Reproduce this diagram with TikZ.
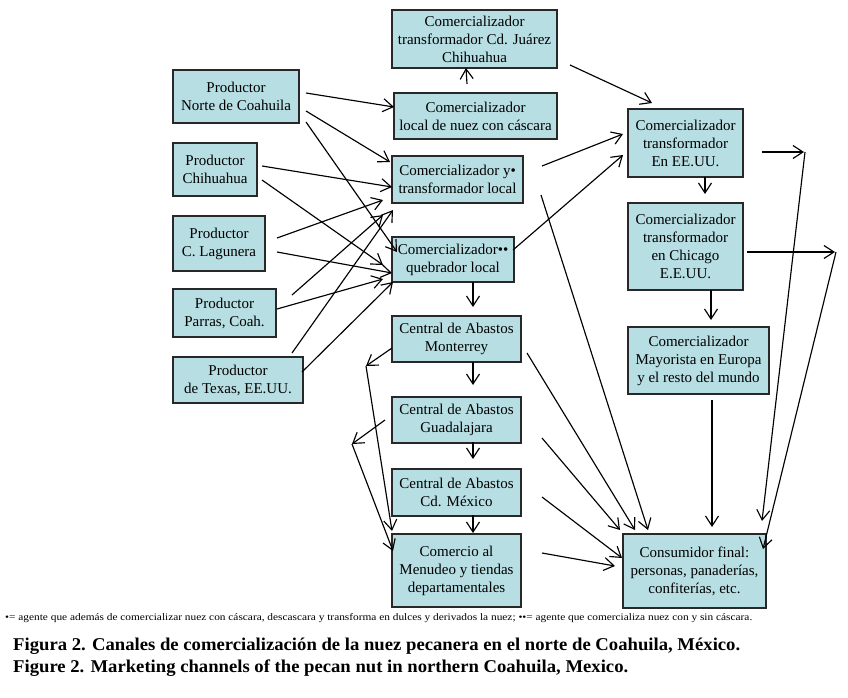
\documentclass[tikz,border=0pt]{standalone}
\usepackage{fontspec}
\setmainfont{Liberation Serif}
\usepackage{graphicx}
\usetikzlibrary{arrows.meta,calc}
\definecolor{boxfill}{RGB}{183,222,227}
\definecolor{boxline}{RGB}{40,40,40}
\begin{document}
\begin{tikzpicture}[x=1pt,y=-1pt,
 box/.style={draw=boxline,fill=boxfill,line width=1.6pt,align=center,inner sep=0pt,font=\fontsize{15}{18}\selectfont},
 arr/.style={line width=1.15pt,-{Straight Barb[length=10pt,width=13pt]}},
 ln/.style={line width=1.15pt}]
\fill[white] (0,0) rectangle (848,697);
\useasboundingbox (0,0) rectangle (848,697);

% centre column
\node[box,minimum width=165pt,minimum height=58pt] (juarez) at (474.5,39) {Comercializador\\transformador Cd. Juárez\\Chihuahua};
\node[box,minimum width=163pt,minimum height=46pt] (nuez) at (475.5,116) {Comercializador\\local de nuez con cáscara};
\node[box,minimum width=131pt,minimum height=47pt] (tlocal) at (457.5,179.5) {Comercializador y•\\transformador local};
\node[box,minimum width=122pt,minimum height=45pt] (queb) at (453,259.5) {Comercializador••\\quebrador local};
\node[box,minimum width=129pt,minimum height=46pt] (mty) at (456.5,339) {Central de Abastos\\Monterrey};
\node[box,minimum width=129pt,minimum height=46pt] (gdl) at (456.5,420) {Central de Abastos\\Guadalajara};
\node[box,minimum width=129pt,minimum height=47pt] (cdmx) at (456.5,492.5) {Central de Abastos\\Cd. México};
\node[box,minimum width=129pt,minimum height=73pt] (menudeo) at (456.5,570.5) {Comercio al\\Menudeo y tiendas\\departamentales};
% producers
\node[box,minimum width=126pt,minimum height=53pt] (norte) at (236,96.5) {Productor\\Norte de Coahuila};
\node[box,minimum width=84pt,minimum height=53pt] (chih) at (215,169.5) {Productor\\Chihuahua};
\node[box,minimum width=92pt,minimum height=55pt] (lag) at (219,243.5) {Productor\\C. Lagunera};
\node[box,minimum width=103pt,minimum height=48pt] (parras) at (224.5,313) {Productor\\Parras, Coah.};
\node[box,minimum width=130pt,minimum height=46pt] (texas) at (238,380) {Productor\\de Texas, EE.UU.};
% right column
\node[box,minimum width=115pt,minimum height=68pt] (eeuu) at (685.5,143) {Comercializador\\transformador\\En EE.UU.};
\node[box,minimum width=115pt,minimum height=87pt] (chicago) at (685.5,246.5) {Comercializador\\transformador\\en Chicago\\E.E.UU.};
\node[box,minimum width=141pt,minimum height=67pt] (europa) at (698.5,360.5) {Comercializador\\Mayorista en Europa\\y el resto del mundo};
\node[box,minimum width=143pt,minimum height=74pt] (cons) at (694.5,571) {Consumidor final:\\personas, panaderías,\\confiterías, etc.};

% bend points
\coordinate (c1) at (366,366);
\coordinate (c2) at (352,444);
\coordinate (c3) at (805,152);
\coordinate (c4) at (836,252);

% producers -> centre
\draw[arr] ([shift={(70,-3.5)}]norte.center) -- ([shift={(-81.5,-9)}]nuez.center);
\draw[arr] ([shift={(70,14.5)}]norte.center) -- ([shift={(-67.5,-17.5)}]tlocal.center);
\draw[arr] ([shift={(70,25.5)}]norte.center) -- ([shift={(-56,-7.5)}]queb.center);
\draw[arr] ([shift={(47,-3.5)}]chih.center) -- ([shift={(-65.5,7.5)}]tlocal.center);
\draw[arr] ([shift={(47,10.5)}]chih.center) -- ([shift={(-70,5.5)}]queb.center);
\draw[arr] ([shift={(58,-5.5)}]lag.center) -- ([shift={(-74.5,20.5)}]tlocal.center);
\draw[arr] ([shift={(58,8.5)}]lag.center) -- ([shift={(-61,13.5)}]queb.center);
\draw[arr] ([shift={(67.5,-18)}]parras.center) -- ([shift={(-74.5,35.5)}]tlocal.center);
\draw[arr] ([shift={(52.5,-4)}]parras.center) -- ([shift={(-70,19.5)}]queb.center);
\draw[arr] ([shift={(54,-27)}]texas.center) -- ([shift={(-64.5,30.5)}]tlocal.center);
\draw[arr] ([shift={(64,-8)}]texas.center) -- ([shift={(-60,22.5)}]queb.center);

% centre -> right
\draw[arr] ([shift={(84.5,-13.5)}]tlocal.center) -- ([shift={(-62.5,-9)}]eeuu.center);
\draw[arr] ([shift={(60,-9.5)}]queb.center) -- ([shift={(-62.5,12)}]eeuu.center);
\draw[arr] ([shift={(95.5,26)}]juarez.center) -- ([shift={(-33.5,-40)}]eeuu.center);
\draw[arr] ([shift={(-8.5,-32)}]nuez.center) -- ([shift={(-8.5,29)}]juarez.center);
\draw[arr] ([shift={(83.5,15.5)}]tlocal.center) -- ([shift={(-46.5,-41)}]cons.center);

% centre column chain
\draw[arr] ([shift={(20,22.5)}]queb.center) -- ([shift={(16.5,-32)}]mty.center);
\draw[arr] ([shift={(16.5,23)}]mty.center) -- ([shift={(16.5,-35)}]gdl.center);
\draw[arr] ([shift={(16.5,22)}]gdl.center) -- ([shift={(16.5,-33.5)}]cdmx.center);
\draw[arr] ([shift={(16.5,22.5)}]cdmx.center) -- ([shift={(16.5,-37.5)}]menudeo.center);

% left bypasses
\draw[arr] ([shift={(-64.5,9)}]mty.center) -- (c1);
\draw[arr] (c1) -- ([shift={(-64.5,-39.5)}]menudeo.center);
\draw[arr] ([shift={(-71.5,0)}]gdl.center) -- (c2);
\draw[arr] (c2) -- ([shift={(-63.5,-19.5)}]menudeo.center);

% to consumer
\draw[arr] ([shift={(70.5,14)}]mty.center) -- ([shift={(-59.5,-41)}]cons.center);
\draw[arr] ([shift={(85.5,18)}]gdl.center) -- ([shift={(-74.5,-41)}]cons.center);
\draw[arr] ([shift={(85.5,4.5)}]cdmx.center) -- ([shift={(-72.5,-13)}]cons.center);
\draw[arr] ([shift={(85.5,-17.5)}]menudeo.center) -- ([shift={(-79.5,-5)}]cons.center);

% right column
\draw[arr] ([shift={(19.5,34)}]eeuu.center) -- ([shift={(19.5,-52.5)}]chicago.center);
\draw[arr] ([shift={(25.5,43.5)}]chicago.center) -- ([shift={(12.5,-40.5)}]europa.center);
\draw[arr] ([shift={(76.5,9)}]eeuu.center) -- ([shift={(-1,0)}]c3);
\draw[arr] (c3) -- ([shift={(67.5,-50)}]cons.center);
\draw[arr] ([shift={(61.5,5.5)}]chicago.center) -- ([shift={(-1,0)}]c4);
\draw[arr] (c4) -- ([shift={(68.5,-22)}]cons.center);
\draw[arr] ([shift={(13.5,39.5)}]europa.center) -- ([shift={(17.5,-44)}]cons.center);

% footnote and caption
\node[anchor=west,inner sep=0pt] (foot) at (5,618) {\resizebox{747pt}{\height}{\fontsize{10}{10}\selectfont •= agente que además de comercializar nuez con cáscara, descascara y transforma en dulces y derivados la nuez; ••= agente que comercializa nuez con y sin cáscara.}};
\node[anchor=west,inner sep=0pt] (cap1) at (13,646) {\resizebox{727pt}{\height}{\fontsize{18}{20}\selectfont\bfseries Figura 2. Canales de comercialización de la nuez pecanera en el norte de Coahuila, México.}};
\node[anchor=west,inner sep=0pt] (cap2) at (13,668) {\resizebox{615pt}{\height}{\fontsize{18}{20}\selectfont\bfseries Figure 2. Marketing channels of the pecan nut in northern Coahuila, Mexico.}};
\end{tikzpicture}
\end{document}
